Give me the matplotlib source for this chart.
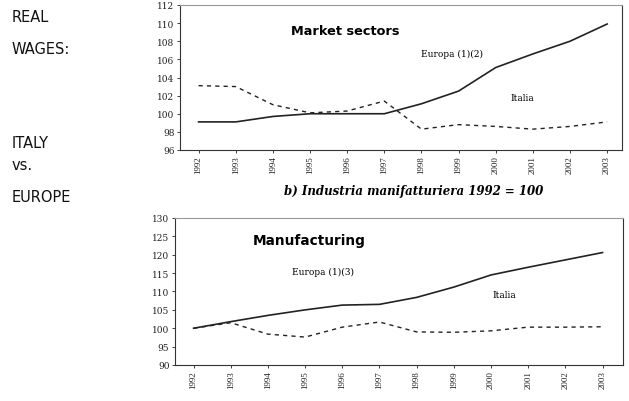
import matplotlib
matplotlib.use("Agg")
import matplotlib.pyplot as plt

# years shared by both panels
years = [1992, 1993, 1994, 1995, 1996, 1997, 1998, 1999, 2000, 2001, 2002, 2003]
year_labels = [str(y) for y in years]

# market sectors (1992 = 100)
market_europa = [99.1, 99.1, 99.7, 100.0, 100.0, 100.0, 101.1, 102.5, 105.1, 106.6, 108.0, 109.9]
market_italia = [103.1, 103.0, 101.0, 100.1, 100.3, 101.4, 98.3, 98.8, 98.6, 98.3, 98.6, 99.1]

# manufacturing (1992 = 100)
manuf_europa = [100.0, 101.8, 103.5, 105.0, 106.3, 106.5, 108.4, 111.2, 114.5, 116.6, 118.6, 120.6]
manuf_italia = [100.0, 101.5, 98.4, 97.6, 100.3, 101.7, 99.0, 98.9, 99.3, 100.3, 100.3, 100.4]

market_yticks = [96, 98, 100, 102, 104, 106, 108, 110, 112]
manuf_yticks = [90, 95, 100, 105, 110, 115, 120, 125, 130]

side_words = [("REAL", 18), ("WAGES:", 50), ("ITALY", 143), ("vs.", 166), ("EUROPE", 197)]

W, H = 629, 402
fig = plt.figure(figsize=(W / 100, H / 100), dpi=100)
fig.patch.set_facecolor("white")

serif = "Liberation Serif"
wide_serif = "DejaVu Serif"
ink = "#222222"


def box(l, t, r, b):
    # pixel box -> figure fractions
    return [l / W, 1 - b / H, (r - l) / W, (b - t) / H]


def style_axes(ax, yticks, xlim):
    ax.set_xlim(*xlim)
    ax.set_ylim(yticks[0], yticks[-1])
    ax.set_yticks(yticks)
    ax.set_yticklabels([str(v) for v in yticks], fontsize=6.5, family=wide_serif)
    ax.set_xticks(years)
    ax.set_xticklabels(year_labels, rotation=90, fontsize=6.5, family=serif)
    ax.tick_params(length=2, width=0.6, pad=2, colors=ink)
    for side, sp in ax.spines.items():
        sp.set_linewidth(0.8)
        sp.set_color("#999999" if side == "top" else "#333333")


# top panel: market sectors
ax1 = fig.add_axes(box(180, 6, 622, 151))
ax1.plot(years, market_europa, color=ink, lw=1.2)
ax1.plot(years, market_italia, color=ink, lw=1.0, ls=(0, (3, 3)))
style_axes(ax1, market_yticks, (1991.5, 2003.4))
ax1.text(1994.5, 109.2, "Market sectors", fontsize=9.3, fontweight="bold", ha="left", va="center")
ax1.text(1998.0, 106.7, "Europa (1)(2)", fontsize=6.5, family=wide_serif, ha="left", va="center")
ax1.text(2000.4, 101.8, "Italia", fontsize=6.5, family=wide_serif, ha="left", va="center")

fig.text(414 / W, 1 - 192 / H, "b) Industria manifatturiera 1992 = 100", fontsize=8.5,
         family=wide_serif, style="italic", fontweight="bold", ha="center", va="center")

# bottom panel: manufacturing
ax2 = fig.add_axes(box(175, 219, 623, 366))
ax2.plot(years, manuf_europa, color=ink, lw=1.2)
ax2.plot(years, manuf_italia, color=ink, lw=1.0, ls=(0, (3, 3)))
style_axes(ax2, manuf_yticks, (1991.5, 2003.55))
ax2.text(1993.6, 124.0, "Manufacturing", fontsize=9.8, fontweight="bold", ha="left", va="center")
ax2.text(1994.65, 115.4, "Europa (1)(3)", fontsize=6.5, family=wide_serif, ha="left", va="center")
ax2.text(2000.05, 109.2, "Italia", fontsize=6.5, family=wide_serif, ha="left", va="center")

# side caption
for word, ypx in side_words:
    fig.text(12 / W, 1 - ypx / H, word, fontsize=10.5, ha="left", va="center", color="#111111")

fig.savefig("out.png", dpi=100)
